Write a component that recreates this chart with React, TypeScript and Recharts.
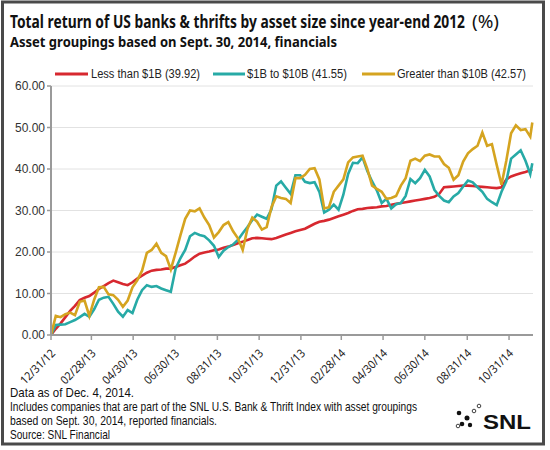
import { LineChart, Line, XAxis, YAxis, CartesianGrid } from 'recharts'

// days since 12/31/12, one point per week, last point is Dec. 4, 2014
const weekDays = [...Array.from({ length: 101 }, (_, i) => i * 7), 703]

const lessThan1B = [
  0, 1.5, 2.8, 4.3, 5.8, 7.0, 8.4, 9.0, 9.4, 10.2,
  11.1, 11.8, 12.5, 13.1, 12.7, 12.3, 12.0, 12.7, 13.6, 14.3,
  15.0, 15.5, 15.7, 15.8, 16.0, 16.0, 16.4, 16.8, 17.2, 18.0,
  18.9, 19.6, 19.9, 20.1, 20.4, 20.6, 21.0, 21.3, 21.7, 22.1,
  22.5, 22.9, 23.3, 23.4, 23.3, 23.2, 23.1, 23.4, 23.8, 24.2,
  24.6, 25.0, 25.3, 25.6, 26.2, 26.8, 27.3, 27.5, 27.8, 28.2,
  28.6, 29.0, 29.4, 29.9, 30.3, 30.4, 30.6, 30.7, 30.8, 31.0,
  31.1, 31.4, 31.6, 31.8, 32.0, 32.2, 32.4, 32.6, 32.8, 33.0,
  33.3, 34.0, 35.6, 35.7, 35.8, 35.9, 36.0, 36.0, 35.9, 35.8,
  35.7, 35.6, 35.5, 35.4, 35.6, 37.5, 38.2, 38.6, 39.0, 39.3,
  39.7, 39.9,
]

const oneTo10B = [
  0, 2.4, 2.5, 2.6, 3.1, 3.6, 4.3, 5.1, 4.4, 6.2,
  8.5, 9.0, 9.2, 7.5, 5.6, 4.4, 6.0, 5.3, 8.5, 10.8,
  12.0, 11.6, 11.8, 11.2, 10.8, 10.4, 16.0, 18.5, 20.5, 23.8,
  24.6, 24.1, 23.8, 22.8, 21.5, 18.8, 20.3, 21.2, 21.8, 22.9,
  24.5, 26.0, 27.7, 29.0, 28.5, 28.0, 30.3, 36.0, 37.0, 35.5,
  34.0, 38.5, 38.5, 36.9, 36.6, 36.8, 34.5, 29.5, 30.2, 31.4,
  30.2, 33.8, 38.8, 41.5, 41.4, 42.8, 39.5, 37.0, 34.8, 31.8,
  32.8, 30.5, 31.5, 31.8, 33.5, 37.6, 36.6, 37.8, 39.8, 38.2,
  35.0, 33.5, 32.4, 32.0, 33.4, 34.2, 35.8, 37.2, 36.8, 35.6,
  34.5, 32.8, 32.0, 31.3, 34.5, 37.0, 42.5, 43.5, 44.5, 42.0,
  38.8, 41.4,
]

const greaterThan10B = [
  0, 4.6, 4.3, 5.0, 5.4, 4.8, 8.0, 8.3, 4.6, 8.5,
  11.5, 11.6, 9.8, 9.6, 8.5, 6.8, 8.3, 11.5, 13.2, 15.5,
  19.8, 20.5, 22.0, 19.8, 19.0, 15.8, 19.8, 24.0, 28.0, 30.0,
  29.8, 30.5, 28.3, 26.5, 23.5, 24.8, 26.5, 27.2, 25.0, 23.3,
  20.5, 25.6, 28.3, 27.3, 25.4, 26.0, 30.8, 33.4, 33.0, 32.8,
  31.8, 37.8, 37.8, 38.6, 40.0, 40.2, 37.5, 30.5, 30.8, 34.5,
  36.0, 37.5, 41.6, 42.8, 43.0, 43.2, 40.0, 36.0, 35.2, 34.5,
  32.8, 33.0, 33.5, 36.0, 37.8, 42.0, 42.5, 41.9, 43.2, 43.5,
  43.0, 43.0, 41.2, 40.3, 37.4, 38.5, 41.8, 43.8, 44.8, 45.6,
  48.8, 45.6, 46.0, 41.0, 36.2, 42.0, 48.6, 50.5, 49.4, 49.6,
  47.8, 51.2,
]

const tickDays = [0, 59, 120, 181, 243, 304, 365, 424, 485, 546, 608, 669]
const tickLabels = ['12/31/12', '02/28/13', '04/30/13', '06/30/13', '08/31/13', '10/31/13',
  '12/31/13', '02/28/14', '04/30/14', '06/30/14', '08/31/14', '10/31/14']
const yTicks = [0, 10, 20, 30, 40, 50, 60]

const seriesNames = ['Less than $1B (39.92)', '$1B to $10B (41.55)', 'Greater than $10B (42.57)']
const colors = ['#d7282f', '#27aaa6', '#d5a420']

const data = weekDays.map((day, i) => ({
  day,
  small: lessThan1B[i],
  mid: oneTo10B[i],
  large: greaterThan10B[i],
}))

const axisFont = '"Liberation Sans", Arial, sans-serif'
const noteFont = '"Noto Sans", "Open Sans", sans-serif'

// condensed text: smaller font stretched vertically, then fitted to width
function FitText({ x, y, size, stretch, width, bold, family, children }: any) {
  return (
    <text
      transform={`translate(${x} ${y}) scale(1 ${stretch})`}
      x={0}
      y={0}
      fontSize={size / stretch}
      fontWeight={bold ? 700 : 400}
      fontFamily={family}
      fill='#111'
      textLength={width}
      lengthAdjust='spacingAndGlyphs'
    >
      {children}
    </text>
  )
}

function DateTick({ x, y, payload }: any) {
  const idx = tickDays.indexOf(payload.value)
  const ax = x + 5
  const ay = y + 12
  return (
    <text
      x={ax}
      y={ay}
      transform={`rotate(-45 ${ax} ${ay})`}
      textAnchor='end'
      fontSize={11.5}
      fontFamily={noteFont}
      fill='#222'
      textLength={44}
      lengthAdjust='spacingAndGlyphs'
    >
      {tickLabels[idx]}
    </text>
  )
}

const legendItems = [
  { x: 55, w: 33, tx: 91, tl: 109 },
  { x: 213, w: 32, tx: 247, tl: 100 },
  { x: 362, w: 33, tx: 397, tl: 129 },
]

const footerLines = [
  { text: 'Data as of Dec. 4, 2014.', tl: 124 },
  { text: 'Includes companies that are part of the SNL U.S. Bank & Thrift Index with asset groupings', tl: 407 },
  { text: 'based on Sept. 30, 2014, reported financials.', tl: 207 },
  { text: 'Source: SNL Financial', tl: 100 },
]

export default function App() {
  return (
    <div style={{ position: 'absolute', left: 0, top: 0, width: 550, height: 450, background: '#fff' }}>
      <div style={{ position: 'absolute', left: 0, top: 0 }}>
        <LineChart width={550} height={450} data={data} margin={{ top: 86, right: 17, left: 0, bottom: 55 }}>
          <CartesianGrid vertical={false} stroke='#e2e2e2' strokeWidth={1} />
          <XAxis
            dataKey='day'
            type='number'
            domain={[0, 704]}
            ticks={tickDays}
            tick={<DateTick />}
            height={60}
            interval={0}
            stroke='#9a9a9a'
            strokeWidth={2}
            tickSize={5}
            tickLine={{ stroke: '#9a9a9a', strokeWidth: 1.5 }}
          />
          <YAxis
            domain={[0, 60]}
            ticks={yTicks}
            width={51}
            tickFormatter={(v: number) => v.toFixed(2)}
            tick={{ fontSize: 12, fontFamily: axisFont, fill: '#333' }}
            stroke='#9a9a9a'
            strokeWidth={2}
            tickSize={4}
            tickLine={{ stroke: '#9a9a9a', strokeWidth: 1.5 }}
          />
          <Line type='linear' dataKey='small' stroke={colors[0]} strokeWidth={2.6} dot={false} isAnimationActive={false} />
          <Line type='linear' dataKey='mid' stroke={colors[1]} strokeWidth={2.6} dot={false} isAnimationActive={false} />
          <Line type='linear' dataKey='large' stroke={colors[2]} strokeWidth={2.6} dot={false} isAnimationActive={false} />
        </LineChart>
      </div>
      <svg width={550} height={450} style={{ position: 'absolute', left: 0, top: 0, pointerEvents: 'none' }}>
        <rect x={2.5} y={2} width={541} height={442} fill='none' stroke='#4a4a4a' strokeWidth={3} />
        <FitText x={10} y={28} size={18} stretch={1.6} width={455} bold family={noteFont}>
          Total return of US banks &amp; thrifts by asset size since year-end 2012
        </FitText>
        <FitText x={472} y={28} size={18} stretch={1.3} width={27} family={noteFont}>
          (%)
        </FitText>
        <FitText x={10} y={47} size={14} stretch={1.4} width={327} bold family={noteFont}>
          Asset groupings based on Sept. 30, 2014, financials
        </FitText>
        {legendItems.map((it, i) => (
          <g key={i}>
            <line x1={it.x} x2={it.x + it.w} y1={74} y2={74} stroke={colors[i]} strokeWidth={3} />
            <text x={it.tx} y={78} fontSize={12} fontFamily={axisFont} fill='#222' textLength={it.tl} lengthAdjust='spacingAndGlyphs'>
              {seriesNames[i]}
            </text>
          </g>
        ))}
        {footerLines.map((l, i) => (
          <FitText key={i} x={10} y={397 + i * 14} size={12.5} stretch={1.4} width={l.tl} family={axisFont}>
            {l.text}
          </FitText>
        ))}
        <g>
          <circle cx={459} cy={413} r={2.3} fill='#111' />
          <circle cx={467} cy={418} r={2.5} fill='#111' />
          <circle cx={462} cy={424} r={2.3} fill='#111' />
          <circle cx={470} cy={425} r={2.2} fill='#111' />
          <circle cx={474} cy={411} r={1.8} fill='none' stroke='#111' strokeWidth={0.8} />
          <circle cx={479} cy={406} r={1.8} fill='none' stroke='#111' strokeWidth={0.8} />
          <circle cx={458} cy={426} r={1.8} fill='none' stroke='#111' strokeWidth={0.8} />
          <text x={483} y={429} fontSize={21} fontWeight={700} fontFamily={axisFont} fill='#111'
            textLength={48} lengthAdjust='spacingAndGlyphs'>
            SNL
          </text>
        </g>
      </svg>
    </div>
  )
}
